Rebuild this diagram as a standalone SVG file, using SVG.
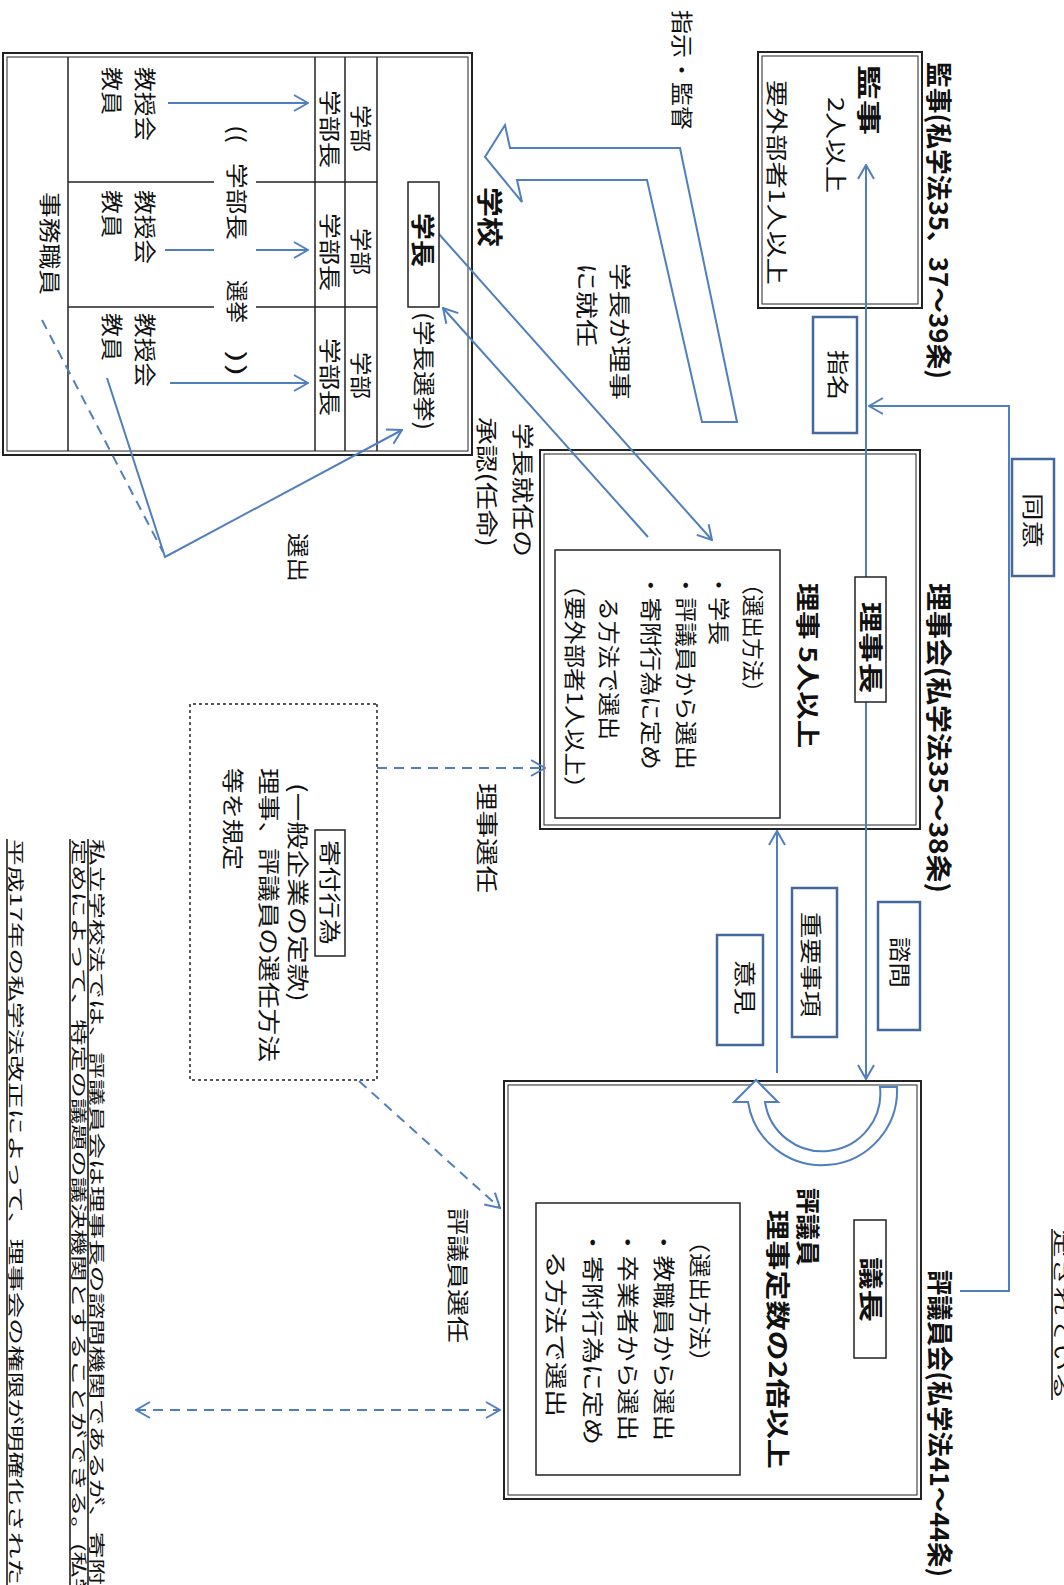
<svg xmlns="http://www.w3.org/2000/svg" width="1064" height="1585" viewBox="0 0 1064 1585">
<defs>
<style>
text{font-family:"Noto Sans CJK JP","Noto Sans CJK SC",sans-serif;font-size:22px;fill:#111}
.b{font-weight:bold;font-size:24px}
.t{font-size:26px;font-weight:bold}
.s{font-size:16px}
.ob{fill:none;stroke:#222;stroke-width:2}
.ib{fill:none;stroke:#222;stroke-width:1}
.bx{fill:#fff;stroke:#222;stroke-width:1.5}
.lb{fill:#fff;stroke:#44679c;stroke-width:2.5}
.gl{stroke:#222;stroke-width:1.5}
.c{fill:none;stroke:#4f7fbd;stroke-width:2}
.d{stroke-dasharray:10 7}
.blk{fill:#fff;stroke:#4f7fbd;stroke-width:2;stroke-linejoin:miter}
.ul{stroke:#111;stroke-width:1.5}
</style>
<marker id="a" viewBox="0 0 16 20" refX="15" refY="10" markerWidth="16" markerHeight="20" markerUnits="userSpaceOnUse" orient="auto-start-reverse"><path d="M1,2 L15,10 L1,18" fill="none" stroke="#4f7fbd" stroke-width="2"/></marker>
</defs>
<rect width="1064" height="1585" fill="#fff"/>
<g transform="translate(1064,0) rotate(90)">

<g id="kanji">
<rect class="ob" x="52" y="142" width="256" height="164"/>
<rect class="ib" x="56" y="146" width="248" height="156"/>
<text class="t" x="62" y="135" textLength="317" lengthAdjust="spacingAndGlyphs">監事(私学法35、37～39条)</text>
<text class="b" x="65" y="204" textLength="70" lengthAdjust="spacingAndGlyphs">監事</text>
<text x="97" y="236" textLength="96" lengthAdjust="spacingAndGlyphs">2人以上</text>
<text x="80" y="295" textLength="205" lengthAdjust="spacingAndGlyphs">要外部者1人以上</text>
</g>

<g id="rijikai">
<rect class="ob" x="450" y="144" width="379" height="380"/>
<rect class="ib" x="454" y="148" width="371" height="372"/>
<text class="t" x="583" y="135" textLength="310" lengthAdjust="spacingAndGlyphs">理事会(私学法35～38条)</text>
<text class="b" x="583" y="265" textLength="165" lengthAdjust="spacingAndGlyphs">理事 5人以上</text>
<rect class="bx" x="550" y="284" width="268" height="225"/>
<text x="573" y="319" textLength="130" lengthAdjust="spacingAndGlyphs">（選出方法）</text>
<text x="573" y="353" textLength="72" lengthAdjust="spacingAndGlyphs">・学長</text>
<text x="573" y="386" textLength="197" lengthAdjust="spacingAndGlyphs">・評議員から選出</text>
<text x="573" y="421" textLength="197" lengthAdjust="spacingAndGlyphs">・寄附行為に定め</text>
<text x="597" y="463" textLength="143" lengthAdjust="spacingAndGlyphs">る方法で選出</text>
<text x="573" y="497" textLength="227" lengthAdjust="spacingAndGlyphs">（要外部者1人以上）</text>
</g>

<g id="hyogiinkai">
<rect class="ob" x="1081" y="143" width="418" height="417"/>
<rect class="ib" x="1085" y="147" width="410" height="409"/>
<text class="t" x="1270" y="134" textLength="307" lengthAdjust="spacingAndGlyphs">評議員会(私学法41～44条)</text>
<text class="b" x="1188" y="265" textLength="78" lengthAdjust="spacingAndGlyphs">評議員</text>
<text class="b" x="1210" y="295" textLength="259" lengthAdjust="spacingAndGlyphs">理事定数の2倍以上</text>
<rect class="bx" x="1203" y="324" width="272" height="204"/>
<text x="1229" y="372" textLength="145" lengthAdjust="spacingAndGlyphs">（選出方法）</text>
<text x="1229" y="408" textLength="212" lengthAdjust="spacingAndGlyphs">・教職員から選出</text>
<text x="1229" y="444" textLength="212" lengthAdjust="spacingAndGlyphs">・卒業者から選出</text>
<text x="1229" y="479" textLength="216" lengthAdjust="spacingAndGlyphs">・寄附行為に定め</text>
<text x="1251" y="516" textLength="166" lengthAdjust="spacingAndGlyphs">る方法で選出</text>
</g>

<g id="gakko">
<rect class="ob" x="53" y="592" width="402" height="469"/>
<rect class="ib" x="57" y="596" width="394" height="461"/>
<text class="t" x="187" y="584" textLength="60" lengthAdjust="spacingAndGlyphs">学校</text>
<text x="312" y="648" textLength="118" lengthAdjust="spacingAndGlyphs">(学長選挙)</text>
<line class="gl" x1="57" y1="687" x2="451" y2="687"/>
<line class="gl" x1="57" y1="719" x2="451" y2="719"/>
<line class="gl" x1="57" y1="749" x2="451" y2="749"/>
<line class="gl" x1="57" y1="996" x2="451" y2="996"/>
<line class="gl" x1="182" y1="687" x2="182" y2="996"/>
<line class="gl" x1="307" y1="687" x2="307" y2="996"/>
<text x="105" y="711" textLength="47" lengthAdjust="spacingAndGlyphs">学部</text>
<text x="228" y="711" textLength="47" lengthAdjust="spacingAndGlyphs">学部</text>
<text x="352" y="711" textLength="47" lengthAdjust="spacingAndGlyphs">学部</text>
<text x="90" y="742" textLength="78" lengthAdjust="spacingAndGlyphs">学部長</text>
<text x="213" y="742" textLength="78" lengthAdjust="spacingAndGlyphs">学部長</text>
<text x="338" y="742" textLength="78" lengthAdjust="spacingAndGlyphs">学部長</text>
<text x="67" y="927" textLength="74" lengthAdjust="spacingAndGlyphs">教授会</text>
<text x="190" y="927" textLength="74" lengthAdjust="spacingAndGlyphs">教授会</text>
<text x="313" y="927" textLength="74" lengthAdjust="spacingAndGlyphs">教授会</text>
<text x="67" y="960" textLength="48" lengthAdjust="spacingAndGlyphs">教員</text>
<text x="190" y="960" textLength="48" lengthAdjust="spacingAndGlyphs">教員</text>
<text x="313" y="960" textLength="48" lengthAdjust="spacingAndGlyphs">教員</text>
<text x="192" y="1022" textLength="103" lengthAdjust="spacingAndGlyphs">事務職員</text>
</g>

<g id="kifu">
<rect x="704" y="687" width="376" height="187" fill="none" stroke="#222" stroke-width="1.5" stroke-dasharray="3 3"/>
<rect class="bx" x="830" y="719" width="126" height="30" stroke-width="1.2"/>
<text x="840" y="742" textLength="105" lengthAdjust="spacingAndGlyphs">寄付行為</text>
<text x="783" y="774" textLength="219" lengthAdjust="spacingAndGlyphs">(一般企業の定款)</text>
<text x="768" y="803" textLength="294" lengthAdjust="spacingAndGlyphs">理事、評議員の選任方法</text>
<text x="768" y="839" textLength="102" lengthAdjust="spacingAndGlyphs">等を規定</text>
</g>

<g id="note">
<text class="s" x="839" y="973" textLength="746" lengthAdjust="spacingAndGlyphs">私立学校法では、評議員会は理事長の諮問機関であるが、寄附</text>
<line class="ul" x1="839" y1="976" x2="1585" y2="976"/>
<text class="s" x="839" y="991" textLength="765" lengthAdjust="spacingAndGlyphs">定めによって、特定の議題の議決機関とすることができる。(私学</text>
<line class="ul" x1="839" y1="994" x2="1585" y2="994"/>
<text class="s" x="839" y="1054" textLength="746" lengthAdjust="spacingAndGlyphs">平成17年の私学法改正によって、理事会の権限が明確化された</text>
<line class="ul" x1="839" y1="1057" x2="1585" y2="1057"/>
<text class="s" x="1229" y="9" textLength="171" lengthAdjust="spacingAndGlyphs">定されている</text>
<line class="ul" x1="1229" y1="12" x2="1400" y2="12"/>
</g>

<g id="connectors">
<line class="c" x1="577" y1="198" x2="165" y2="198" marker-end="url(#a)"/>
<line class="c" x1="702" y1="198" x2="1079" y2="198" marker-end="url(#a)"/>
<polyline class="c" points="1291,104 1291,55 406,55 406,195" marker-end="url(#a)"/>
<line class="c" x1="1073" y1="287" x2="831" y2="287" marker-end="url(#a)"/>
<path class="blk" d="M1087,167 A75,75 0 0 1 1102,316 L1102,330 L1080,308 L1102,286 L1102,299 A58,58 0 0 0 1087,184 Z"/>
<line class="c" x1="233" y1="626" x2="540" y2="352" marker-end="url(#a)"/>
<line class="c" x1="537" y1="416" x2="308" y2="621" marker-end="url(#a)"/>
<path class="blk" d="M422,327 L148,384 L148,554 L125,559 L157,579 L202,542 L180,547 L180,417 L422,362 Z"/>
<polyline class="c" points="378,957 557,899 430,662" marker-end="url(#a)"/>
<line class="c d" x1="320" y1="1022" x2="552" y2="901"/>
<line class="c" x1="103" y1="896" x2="103" y2="756" marker-end="url(#a)"/>
<line class="c" x1="250" y1="899" x2="250" y2="756" marker-end="url(#a)"/>
<line class="c" x1="383" y1="894" x2="383" y2="756" marker-end="url(#a)"/>
<line class="c d" x1="768" y1="687" x2="768" y2="519" marker-end="url(#a)"/>
<line class="c d" x1="1081" y1="705" x2="1208" y2="564" marker-end="url(#a)"/>
<line class="c d" x1="1410" y1="928" x2="1410" y2="564" marker-start="url(#a)" marker-end="url(#a)"/>
</g>

<g id="labels">
<rect class="bx" x="577" y="178" width="125" height="31"/>
<text class="b" x="602" y="202" textLength="91" lengthAdjust="spacingAndGlyphs">理事長</text>
<rect class="bx" x="1220" y="178" width="138" height="32"/>
<text class="b" x="1257" y="202" textLength="65" lengthAdjust="spacingAndGlyphs">議長</text>
<rect class="bx" x="182" y="625" width="125" height="31"/>
<text class="b" x="213" y="650" textLength="54" lengthAdjust="spacingAndGlyphs">学長</text>
<rect class="lb" x="459" y="10" width="117" height="42"/>
<text x="493" y="39" textLength="55" lengthAdjust="spacingAndGlyphs">同意</text>
<rect class="lb" x="317" y="207" width="116" height="44"/>
<text x="350" y="234" textLength="50" lengthAdjust="spacingAndGlyphs">指名</text>
<rect class="lb" x="902" y="144" width="128" height="42"/>
<text x="937" y="172" textLength="51" lengthAdjust="spacingAndGlyphs">諮問</text>
<rect class="lb" x="888" y="227" width="149" height="45"/>
<text x="912" y="261" textLength="105" lengthAdjust="spacingAndGlyphs">重要事項</text>
<rect class="lb" x="935" y="301" width="110" height="46"/>
<text x="960" y="327" textLength="55" lengthAdjust="spacingAndGlyphs">意見</text>
<rect x="120" y="808" width="260" height="42" fill="#fff"/>
<text x="125" y="835" textLength="18" lengthAdjust="spacingAndGlyphs">((</text>
<text x="163" y="835" textLength="77" lengthAdjust="spacingAndGlyphs">学部長</text>
<text x="280" y="835" textLength="43" lengthAdjust="spacingAndGlyphs">選挙</text>
<text x="350" y="835" textLength="27" lengthAdjust="spacingAndGlyphs">))</text>
<text x="423" y="549" textLength="134" lengthAdjust="spacingAndGlyphs">学長就任の</text>
<text x="417" y="585" textLength="130" lengthAdjust="spacingAndGlyphs">承認(任命)</text>
<text x="263" y="452" textLength="137" lengthAdjust="spacingAndGlyphs">学長が理事</text>
<text x="263" y="485" textLength="84" lengthAdjust="spacingAndGlyphs">に就任</text>
<text x="10" y="390" textLength="120" lengthAdjust="spacingAndGlyphs">指示・監督</text>
<text x="533" y="774" textLength="49" lengthAdjust="spacingAndGlyphs">選出</text>
<text x="783" y="585" textLength="110" lengthAdjust="spacingAndGlyphs">理事選任</text>
<text x="1208" y="614" textLength="135" lengthAdjust="spacingAndGlyphs">評議員選任</text>
</g>

</g>
</svg>
